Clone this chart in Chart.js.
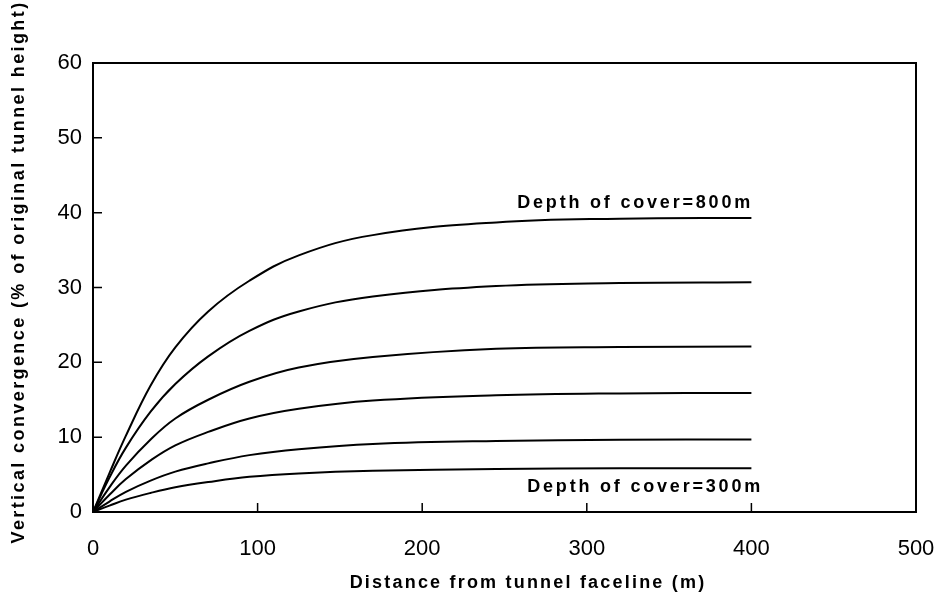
<!DOCTYPE html>
<html>
<head>
<meta charset="utf-8">
<script src="https://cdn.jsdelivr.net/npm/chart.js@4"></script>
<style>
  html, body { margin: 0; padding: 0; background: #fff; }
  #wrap { width: 947px; height: 600px; }
</style>
</head>
<body>
<div id="wrap"><canvas id="convChart" width="947" height="600"></canvas></div>
<script>
var distances = [0, 10, 20, 35, 50, 70, 95, 125, 170, 245, 320, 400];

// vertical convergence (% of original tunnel height), one array per depth of cover
var cover800 = [0, 5.2, 10.2, 16.9, 22.0, 26.8, 30.9, 34.3, 37.0, 38.7, 39.2, 39.3];
var cover700 = [0, 4.6, 8.6, 13.4, 17.1, 20.8, 24.2, 26.8, 28.8, 30.2, 30.6, 30.7];
var cover600 = [0, 3.3, 6.2, 9.7, 12.5, 15.0, 17.4, 19.3, 20.7, 21.8, 22.05, 22.1];
var cover500 = [0, 2.3, 4.4, 6.9, 8.9, 10.7, 12.5, 13.8, 14.9, 15.6, 15.85, 15.9];
var cover400 = [0, 1.4, 2.7, 4.2, 5.4, 6.5, 7.6, 8.4, 9.1, 9.5, 9.65, 9.7];
var cover300 = [0, 0.85, 1.65, 2.55, 3.3, 4.0, 4.7, 5.15, 5.5, 5.75, 5.83, 5.85];

var xTicks = [0, 100, 200, 300, 400, 500];
var yTicks = [0, 10, 20, 30, 40, 50, 60];

var xTitle = "Distance from tunnel faceline (m)";
var yTitle = "Vertical convergence (% of original tunnel height)";
var topNote = "Depth of cover=800m";
var bottomNote = "Depth of cover=300m";

function toPoints(vals) {
    return vals.map(function (v, i) { return { x: distances[i], y: v }; });
}

function lineSet(vals) {
    return {
        data: toPoints(vals),
        borderColor: '#000',
        borderWidth: 2,
        pointRadius: 0,
        fill: false,
        tension: 0.4
    };
}

// inward tick marks, top/right frame, titles and the two notes
var decorations = {
    id: 'decorations',
    afterDraw: function (chart) {
        var ctx = chart.ctx;
        var a = chart.chartArea;
        var xs = chart.scales.x, ys = chart.scales.y;
        ctx.save();
        ctx.strokeStyle = '#000';
        ctx.lineWidth = 2;
        ctx.beginPath();
        ctx.moveTo(a.left, a.top);
        ctx.lineTo(a.right, a.top);
        ctx.lineTo(a.right, a.bottom);
        ctx.stroke();

        ctx.lineWidth = 1.5;
        ctx.beginPath();
        xTicks.slice(1, -1).forEach(function (t) {
            var px = xs.getPixelForValue(t);
            ctx.moveTo(px, a.bottom);
            ctx.lineTo(px, a.bottom - 9);
        });
        yTicks.slice(1, -1).forEach(function (t) {
            var py = ys.getPixelForValue(t);
            ctx.moveTo(a.left, py);
            ctx.lineTo(a.left + 9, py);
        });
        ctx.stroke();

        ctx.fillStyle = '#000';
        ctx.font = 'bold 18px "Liberation Sans", Arial, sans-serif';
        ctx.textBaseline = 'middle';

        ctx.letterSpacing = '2.2px';
        ctx.textAlign = 'center';
        ctx.fillText(xTitle, 528, 583);

        ctx.save();
        ctx.letterSpacing = '2.4px';
        ctx.translate(19, 272);
        ctx.rotate(-Math.PI / 2);
        ctx.fillText(yTitle, 0, 0);
        ctx.restore();

        ctx.letterSpacing = '2.8px';
        ctx.textAlign = 'right';
        ctx.fillText(topNote, 753, 203);
        ctx.fillText(bottomNote, 763, 487);
        ctx.restore();
    }
};

var tickFont = { family: '"Liberation Sans", Arial, sans-serif', size: 22 };

var convChart = new Chart(document.getElementById('convChart'), {
    type: 'line',
    data: {
        datasets: [
            lineSet(cover800),
            lineSet(cover700),
            lineSet(cover600),
            lineSet(cover500),
            lineSet(cover400),
            lineSet(cover300)
        ]
    },
    options: {
        responsive: false,
        animation: false,
        events: [],
        layout: { padding: { left: 0, top: 63, right: 31, bottom: 0 } },
        plugins: {
            legend: { display: false },
            tooltip: { enabled: false }
        },
        scales: {
            x: {
                type: 'linear',
                min: 0,
                max: 500,
                afterBuildTicks: function (s) { s.ticks = xTicks.map(function (v) { return { value: v }; }); },
                afterFit: function (s) { s.height = 88; s.paddingLeft = 0; s.paddingRight = 0; },
                ticks: { color: '#000', font: tickFont, padding: 24, maxRotation: 0 },
                grid: { drawOnChartArea: false, drawTicks: false },
                border: { color: '#000', width: 2 }
            },
            y: {
                type: 'linear',
                min: 0,
                max: 60,
                afterBuildTicks: function (s) { s.ticks = yTicks.map(function (v) { return { value: v }; }); },
                afterFit: function (s) { s.width = 93; s.paddingTop = 0; s.paddingBottom = 0; },
                ticks: { color: '#000', font: tickFont, padding: 11 },
                grid: { drawOnChartArea: false, drawTicks: false },
                border: { color: '#000', width: 2 }
            }
        }
    },
    plugins: [decorations]
});
</script>
</body>
</html>
